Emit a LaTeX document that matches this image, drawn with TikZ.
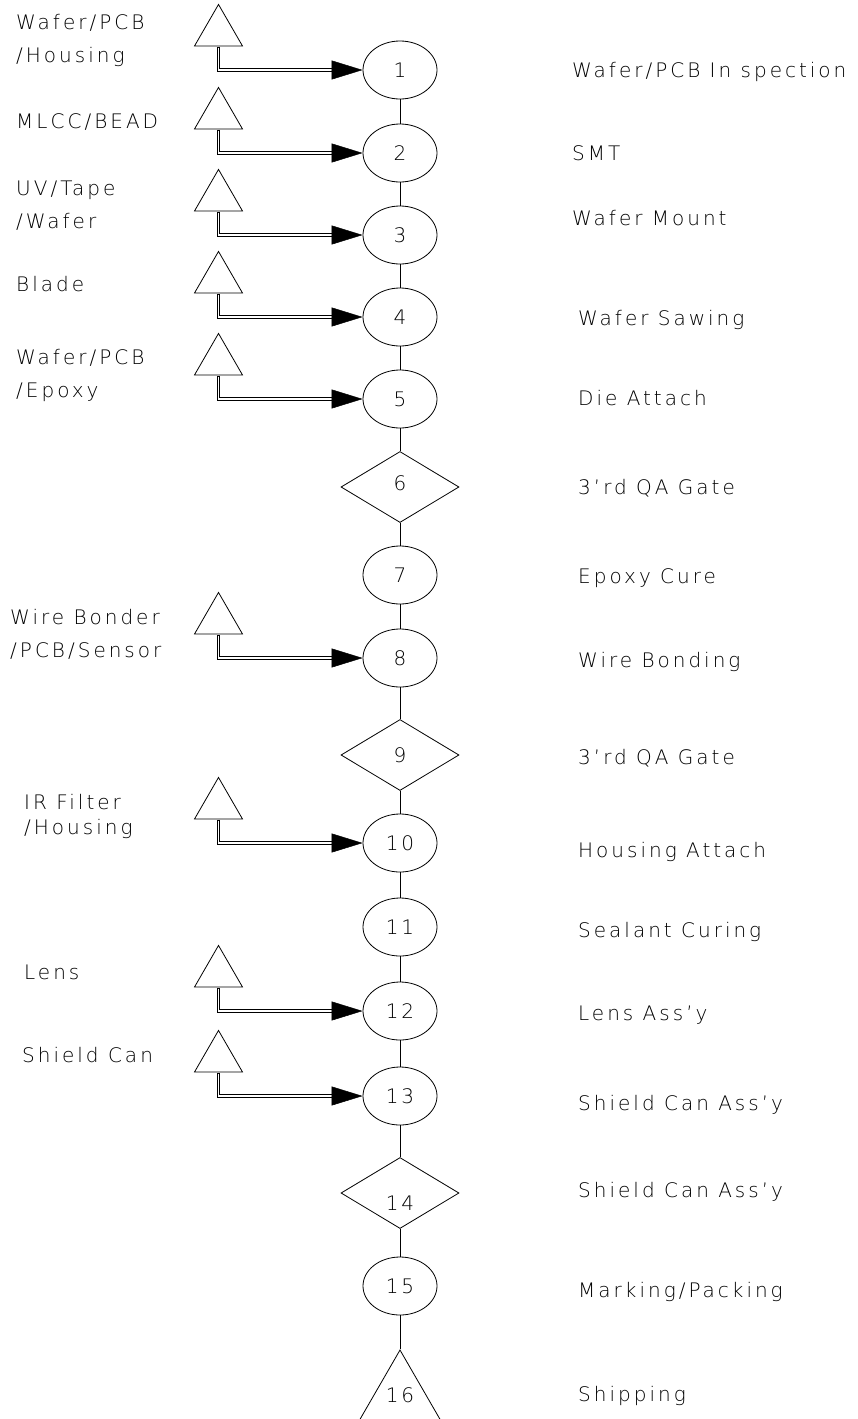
\documentclass[tikz,border=0pt]{standalone}
\usepackage{fontspec}
\setmainfont{DejaVu Sans}[UprightFont={* ExtraLight}, LetterSpace=15]
\usetikzlibrary{shapes.geometric, arrows.meta}
\tikzset{
  base/.style={line width=0.8pt},
  proc/.style={base, ellipse, draw, minimum width=74pt, minimum height=58pt, inner sep=0pt},
  gate/.style={base, diamond, draw, minimum width=118pt, minimum height=71pt, inner sep=0pt},
  supply/.style={base, regular polygon, regular polygon sides=3, draw, minimum size=55.4pt, inner sep=0pt},
  ship/.style={base, regular polygon, regular polygon sides=3, draw, minimum size=110.8pt, inner sep=0pt},
  feedout/.style={line width=3.6pt, black},
  feedin/.style={line width=1.8pt, white},
  tipline/.style={line width=0.5pt, -{Triangle[length=31pt, width=19pt]}},
  link/.style={base},
  txt/.style={inner sep=0pt, anchor=base west, font=\fontsize{20}{33}\selectfont, align=left},
  num/.style={font=\fontsize{20}{24}\selectfont}
}
\begin{document}
\begin{tikzpicture}[x=1pt, y=-1pt]
\useasboundingbox (0,0) rectangle (858,1419);
\clip (0,0) rectangle (858,1419);

% main flow
\node[proc, num] (n1)  at (400,70)   {1};
\node[proc, num] (n2)  at (400,153)  {2};
\node[proc, num] (n3)  at (400,235)  {3};
\node[proc, num] (n4)  at (400,317)  {4};
\node[proc, num] (n5)  at (400,399)  {5};
\node[gate, label={[num, yshift=4pt]center:6}] (n6)  at (400,487)  {};
\node[proc, num] (n7)  at (400,575)  {7};
\node[proc, num] (n8)  at (400,658)  {8};
\node[gate, num] (n9)  at (400,755)  {9};
\node[proc, num] (n10) at (400,843)  {10};
\node[proc, num] (n11) at (400,927)  {11};
\node[proc, num] (n12) at (400,1011) {12};
\node[proc, num] (n13) at (400,1096) {13};
\node[gate, label={[num, yshift=-10pt]center:14}] (n14) at (400,1193) {};
\node[proc, num] (n15) at (400,1286) {15};
\node[ship] (n16) at (400,1405.4) {};
\node[num] (t16) at (400,1395) {16};

\foreach \a/\b in {n1/n2,n2/n3,n3/n4,n4/n5,n5/n6,n6/n7,n7/n8,n8/n9,n9/n10,n10/n11,n11/n12,n12/n13,n13/n14,n14/n15}
  \draw[link] (\a) -- (\b);
\draw[link] (n15) -- (n16.corner 1);

% supplies
\foreach \k/\y in {1/70,2/153,3/235,4/317,5/399,8/658,10/843,12/1011,13/1096}{
  \node[supply] (s\k) at (218.5,\y-24-13.85) {};
  \coordinate (a\k) at ([xshift=-31pt]n\k.west);
  \coordinate (c\k) at (s\k.south |- a\k);
  \draw[feedout] ([yshift=-0.4pt]s\k.south) -- (c\k) -- (a\k);
  \draw[feedin] ([yshift=-1.2pt]s\k.south) -- (c\k) -- ([xshift=0.5pt]a\k);
  \draw[tipline] (a\k) -- (n\k.west);
}

% left labels
\node[txt] (m1)  at (16,62.5)  {Wafer/PCB\\/Housing};
\node[txt] (m2)  at (16,128.5) {MLCC/BEAD};
\node[txt] (m3)  at (16,228.5) {UV/Tape\\/Wafer};
\node[txt] (m4)  at (16,291.5) {Blade};
\node[txt] (m5)  at (16,397.5) {Wafer/PCB\\/Epoxy};
\node[txt] (m8)  at (10,657.5) {Wire Bonder\\/PCB/Sensor};
\node[txt, font=\fontsize{20}{25}\selectfont] (m10) at (24,834) {IR Filter\\/Housing};
\node[txt] (m12) at (24,979.5) {Lens};
\node[txt] (m13) at (22,1062.5) {Shield Can};

% right labels
\node[txt] (r1)  at (572,77.5)   {Wafer/PCB In spection};
\node[txt] (r2)  at (572,160.5)  {SMT};
\node[txt] (r3)  at (572,225.5)  {Wafer Mount};
\node[txt] (r4)  at (578,325.5)  {Wafer Sawing};
\node[txt] (r5)  at (578,405.5)  {Die Attach};
\node[txt] (r6)  at (578,494.5)  {3'rd QA Gate};
\node[txt] (r7)  at (578,583.5)  {Epoxy Cure};
\node[txt] (r8)  at (578,667.5)  {Wire Bonding};
\node[txt] (r9)  at (578,764.5)  {3'rd QA Gate};
\node[txt] (r10) at (578,857.5)  {Housing Attach};
\node[txt] (r11) at (578,937.5)  {Sealant Curing};
\node[txt] (r12) at (578,1020.5) {Lens Ass'y};
\node[txt] (r13) at (578,1110.5) {Shield Can Ass'y};
\node[txt] (r14) at (578,1197.5) {Shield Can Ass'y};
\node[txt] (r15) at (578,1297.5) {Marking/Packing};
\node[txt] (r16) at (578,1401.5) {Shipping};
\end{tikzpicture}
\end{document}
